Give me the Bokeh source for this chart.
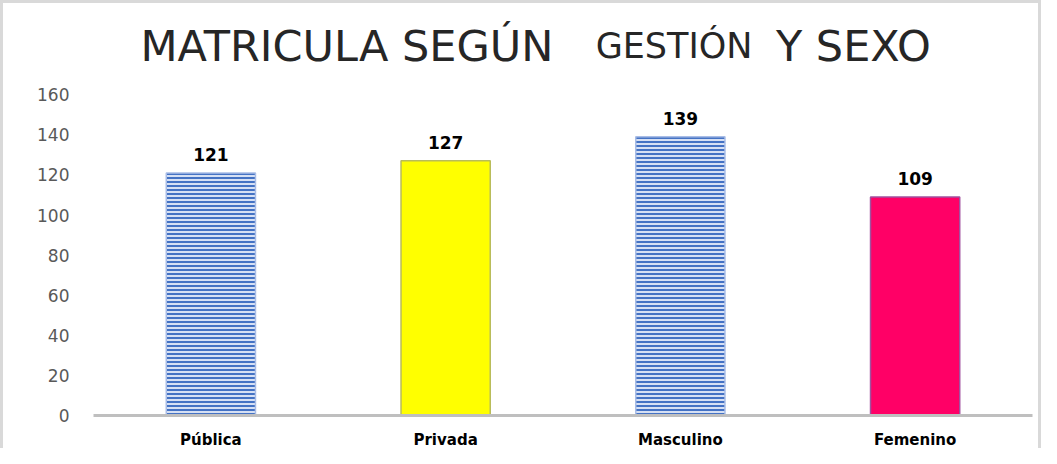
from bokeh.plotting import figure
from bokeh.models import ColumnDataSource, FactorRange, LabelSet, FixedTicker
from bokeh.core.properties import value
from bokeh.embed import file_html
from bokeh.resources import INLINE

categories = ["Pública", "Privada", "Masculino", "Femenino"]
values = [121, 127, 139, 109]
y_ticks = [0, 20, 40, 60, 80, 100, 120, 140, 160]

title_parts = ["MATRICULA SEGÚN", "GESTIÓN", "Y SEXO"]
title_sizes = ["43px", "35px", "43px"]

fill_colors = ["#d6e0f4", "#ffff00", "#d6e0f4", "#ff0066"]
hatch_patterns = ["-", " ", "-", " "]
line_colors = ["#a9bde6", "#b9bc5a", "#a9bde6", "#a1509f"]

source = ColumnDataSource(dict(
    cat=categories, val=values, fill=fill_colors, hatch=hatch_patterns,
    line=line_colors, lab=[str(v) for v in values],
))

p = figure(
    x_range=FactorRange(*categories, range_padding=0),
    y_range=(0, 200),
    width=1041, height=448,
    output_backend="svg", toolbar_location=None,
    min_border_left=90, min_border_right=12,
    min_border_top=11, min_border_bottom=26,
)
p.styles = {"border-top": "3px solid #d9d9d9", "border-left": "3px solid #d9d9d9",
            "border-right": "3px solid #d9d9d9"}

p.vbar(x="cat", top="val", width=0.38, source=source,
       fill_color="fill", line_color="line", line_width=1.5,
       hatch_pattern="hatch", hatch_color="#4472c4", hatch_scale=4, hatch_weight=2)

labels = LabelSet(x="cat", y="val", text="lab", source=source,
                  text_align="center", text_baseline="bottom", y_offset=12,
                  text_font=value("DejaVu Sans"), text_font_style="bold",
                  text_font_size="17px", text_color="#000000")
p.add_layout(labels)

# Title (mixed sizes, drawn as text in the upper part of the frame)
tsrc = ColumnDataSource(dict(x=[0.20, 2.139, 2.907], y=[184.3, 184.3, 184.3],
                             text=title_parts, size=title_sizes))
p.text(x="x", y="y", text="text", source=tsrc, text_align="left",
       text_baseline="alphabetic", text_font=value("DejaVu Sans"),
       text_font_size="size", text_color="#262626")

p.xgrid.grid_line_color = None
p.ygrid.grid_line_color = None
p.outline_line_color = None

p.yaxis.ticker = FixedTicker(ticks=y_ticks)
p.yaxis.axis_line_color = None
p.yaxis.major_tick_line_color = None
p.yaxis.minor_tick_line_color = None
p.yaxis.major_label_text_font = "DejaVu Sans"
p.yaxis.major_label_text_font_size = "17px"
p.yaxis.major_label_text_color = "#595959"
p.yaxis.major_label_standoff = 18

p.xaxis.axis_line_color = "#bfbfbf"
p.xaxis.axis_line_width = 3
p.xaxis.major_tick_line_color = None
p.xaxis.minor_tick_line_color = None
p.xaxis.major_label_text_font = "DejaVu Sans"
p.xaxis.major_label_text_font_style = "bold"
p.xaxis.major_label_text_font_size = "15px"
p.xaxis.major_label_text_color = "#000000"
p.xaxis.major_label_standoff = 9

open("out.html", "w").write(file_html(p, INLINE))
